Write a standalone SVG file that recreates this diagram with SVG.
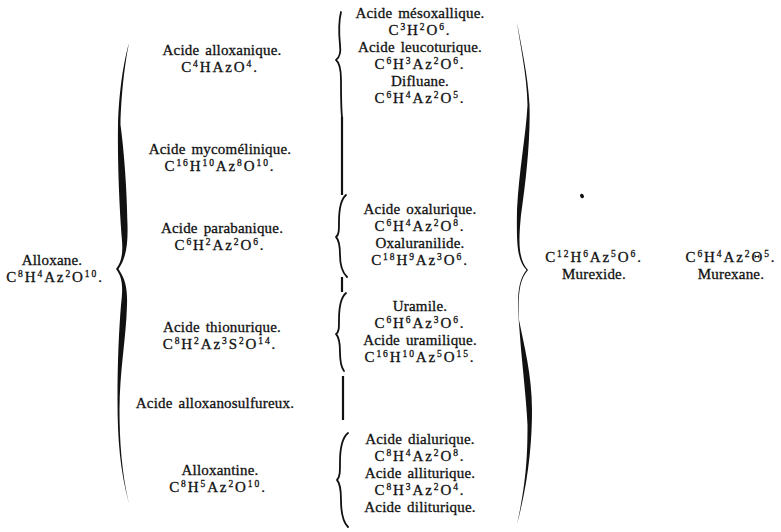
<svg xmlns="http://www.w3.org/2000/svg" width="781" height="532" viewBox="0 0 781 532">
<style>
text { font-family: "Liberation Serif", "Times New Roman", serif; font-size: 15px; fill: #111; stroke: #111; stroke-width: 0.3; text-anchor: middle; word-spacing: 2px; letter-spacing: 0.2px; }
.f { letter-spacing: 1.9px; }
.u { font-size: 9.5px; baseline-shift: 5px; }
.fill { fill: #111; stroke: none; }
.bs { fill: none; stroke: #111; stroke-width: 1.8; stroke-linecap: round; stroke-linejoin: round; }
.bar { fill: none; stroke: #111; stroke-width: 2.2; }
</style>
<rect width="781" height="532" fill="#fff"/>

<g id="connectors">
  <path class="fill" d="M129,43 C124,60 119,90 118,125 C117.5,160 119,200 121.5,235 C123,250 123,260 116,269 C123,278 123,288 121,305 C119,330 117.5,360 117.5,400 C117.5,440 120,470 129,504 C121.5,472 119.5,440 119.5,410 C119.5,370 126,340 127,305 C127.5,290 126,280 118.5,269 C126,258 128,245 127.5,225 C127,190 124,150 120.5,125 C121,95 125,62 129,43 Z"/>
  <path class="bs" d="M341,12 C339,20 339,35 340,45 C341,52 340,57 336,60 C340,63 341,70 341,80 C341,95 341,108 342,117"/>
  <path class="bar" d="M342,117 L342,195"/>
  <path class="bs" d="M346,195 C340,200 339,210 339,222 C339,230 339,235 336,237 C339,240 340,245 340,255 C340,265 342,272 347,277"/>
  <path class="bar" d="M342,277 L342,292"/>
  <path class="bs" d="M346,293 C340,298 339,308 339,320 C339,328 339,332 336,334 C339,337 340,342 340,352 C340,362 341,367 344,371"/>
  <path class="bar" d="M343,376 L343,420"/>
  <path class="bs" d="M348,433 C342,438 340,450 340,462 C340,472 340,477 337,480 C340,483 341,490 341,500 C341,512 343,522 348,527"/>
  <path class="fill" d="M517,22 C521,45 528,75 529.5,105 C530.5,140 526,180 521,215 C518,245 519,260 528,270 C519,280 518,295 519,320 C524,345 532,375 532,410 C532,440 529,480 517,524 C527,480 527.5,450 527.5,425 C526,395 522,365 519.5,330 C517,300 517,282 526.5,270 C517,260 516.5,245 517,210 C519,170 526,135 527.5,105 C527,75 520,45 517,22 Z"/>
  <ellipse class="fill" cx="582" cy="196" rx="1.8" ry="2.4" transform="rotate(-30 582 196)"/>
</g>

<g id="n-alloxane">
  <text x="52" y="265">Alloxane.</text>
  <text class="f" x="55" y="282">C<tspan class="u">8</tspan>H<tspan class="u">4</tspan>Az<tspan class="u">2</tspan>O<tspan class="u">10</tspan>.</text>
</g>

<g id="n-alloxanique">
  <text x="222" y="55">Acide alloxanique.</text>
  <text class="f" x="220" y="72">C<tspan class="u">4</tspan>HAzO<tspan class="u">4</tspan>.</text>
</g>
<g id="n-mycomelinique">
  <text x="220" y="154">Acide mycomélinique.</text>
  <text class="f" x="220" y="171">C<tspan class="u">16</tspan>H<tspan class="u">10</tspan>Az<tspan class="u">8</tspan>O<tspan class="u">10</tspan>.</text>
</g>
<g id="n-parabanique">
  <text x="222" y="233">Acide parabanique.</text>
  <text class="f" x="220" y="250">C<tspan class="u">6</tspan>H<tspan class="u">2</tspan>Az<tspan class="u">2</tspan>O<tspan class="u">6</tspan>.</text>
</g>
<g id="n-thionurique">
  <text x="222" y="332">Acide thionurique.</text>
  <text class="f" x="220" y="349">C<tspan class="u">8</tspan>H<tspan class="u">2</tspan>Az<tspan class="u">3</tspan>S<tspan class="u">2</tspan>O<tspan class="u">14</tspan>.</text>
</g>
<g id="n-alloxanosulfureux">
  <text x="215" y="408">Acide alloxanosulfureux.</text>
</g>
<g id="n-alloxantine">
  <text x="220" y="475">Alloxantine.</text>
  <text class="f" x="218" y="492">C<tspan class="u">8</tspan>H<tspan class="u">5</tspan>Az<tspan class="u">2</tspan>O<tspan class="u">10</tspan>.</text>
</g>

<g id="n-mesoxallique">
  <text x="420" y="18">Acide mésoxallique.</text>
  <text class="f" x="420" y="35">C<tspan class="u">3</tspan>H<tspan class="u">2</tspan>O<tspan class="u">6</tspan>.</text>
</g>
<g id="n-leucoturique">
  <text x="420" y="52">Acide leucoturique.</text>
  <text class="f" x="420" y="69">C<tspan class="u">6</tspan>H<tspan class="u">3</tspan>Az<tspan class="u">2</tspan>O<tspan class="u">6</tspan>.</text>
</g>
<g id="n-difluane">
  <text x="420" y="86">Difluane.</text>
  <text class="f" x="420" y="103">C<tspan class="u">6</tspan>H<tspan class="u">4</tspan>Az<tspan class="u">2</tspan>O<tspan class="u">5</tspan>.</text>
</g>
<g id="n-oxalurique">
  <text x="420" y="214">Acide oxalurique.</text>
  <text class="f" x="420" y="231">C<tspan class="u">6</tspan>H<tspan class="u">4</tspan>Az<tspan class="u">2</tspan>O<tspan class="u">8</tspan>.</text>
</g>
<g id="n-oxaluranilide">
  <text x="420" y="248">Oxaluranilide.</text>
  <text class="f" x="420" y="265">C<tspan class="u">18</tspan>H<tspan class="u">9</tspan>Az<tspan class="u">3</tspan>O<tspan class="u">6</tspan>.</text>
</g>
<g id="n-uramile">
  <text x="420" y="311">Uramile.</text>
  <text class="f" x="420" y="328">C<tspan class="u">6</tspan>H<tspan class="u">6</tspan>Az<tspan class="u">3</tspan>O<tspan class="u">6</tspan>.</text>
</g>
<g id="n-uramilique">
  <text x="420" y="345">Acide uramilique.</text>
  <text class="f" x="420" y="362">C<tspan class="u">16</tspan>H<tspan class="u">10</tspan>Az<tspan class="u">5</tspan>O<tspan class="u">15</tspan>.</text>
</g>
<g id="n-dialurique">
  <text x="420" y="444">Acide dialurique.</text>
  <text class="f" x="420" y="461">C<tspan class="u">8</tspan>H<tspan class="u">4</tspan>Az<tspan class="u">2</tspan>O<tspan class="u">8</tspan>.</text>
</g>
<g id="n-alliturique">
  <text x="420" y="478">Acide alliturique.</text>
  <text class="f" x="420" y="495">C<tspan class="u">8</tspan>H<tspan class="u">3</tspan>Az<tspan class="u">2</tspan>O<tspan class="u">4</tspan>.</text>
</g>
<g id="n-diliturique">
  <text x="420" y="512">Acide diliturique.</text>
</g>

<g id="n-murexide">
  <text class="f" x="594" y="262">C<tspan class="u">12</tspan>H<tspan class="u">6</tspan>Az<tspan class="u">5</tspan>O<tspan class="u">6</tspan>.</text>
  <text x="594" y="279">Murexide.</text>
</g>
<g id="n-murexane">
  <text class="f" x="731" y="262">C<tspan class="u">6</tspan>H<tspan class="u">4</tspan>Az<tspan class="u">2</tspan>Θ<tspan class="u">5</tspan>.</text>
  <text x="731" y="279">Murexane.</text>
</g>
</svg>
